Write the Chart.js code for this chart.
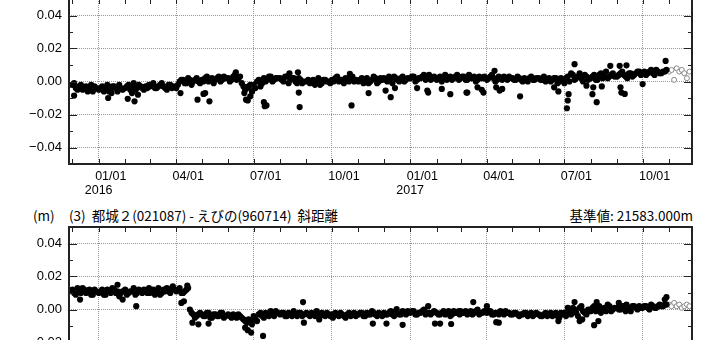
<!DOCTYPE html>
<html>
<head>
<meta charset="utf-8">
<script src="https://cdn.jsdelivr.net/npm/chart.js@4.4.0/dist/chart.umd.min.js"></script>
<style>
  body { margin: 0; width: 720px; height: 340px; overflow: hidden; background: #fff; position: relative; }
  .box { position: absolute; left: 0; width: 720px; }
  .head { position: absolute; top: 207px; font: 13.5px "Noto Sans CJK JP", sans-serif; line-height: 16px; color: #000; white-space: pre; }
</style>
</head>
<body>
<div class="box" style="top:-20px;height:220px"><canvas id="chartTop" width="720" height="220"></canvas></div>
<div class="head" style="left:33px">(m)</div>
<div class="head" style="left:69px">(3)  都城２(021087) - えびの(960714)  斜距離</div>
<div class="head" style="right:27px">基準値: 21583.000m</div>
<div class="box" style="top:200px;height:230px"><canvas id="chartBottom" width="720" height="230"></canvas></div>
<script>
const xStart = "2015-11-27";
const xEnd = "2017-11-28";
const yTicks = [-0.05, -0.04, -0.03, -0.02, -0.01, 0, 0.01, 0.02, 0.03, 0.04, 0.05];

const obsDates = [
  "2015-11-27",
  "2015-12-01","2015-12-05","2015-12-09","2015-12-13","2015-12-17","2015-12-21","2015-12-25","2015-12-29",
  "2016-01-01","2016-01-05","2016-01-09","2016-01-13","2016-01-17","2016-01-21","2016-01-25","2016-01-29",
  "2016-02-01","2016-02-05","2016-02-09","2016-02-13","2016-02-17","2016-02-21","2016-02-25","2016-02-29",
  "2016-03-01","2016-03-05","2016-03-09","2016-03-13","2016-03-17","2016-03-21","2016-03-25","2016-03-29",
  "2016-04-01","2016-04-05","2016-04-09","2016-04-13","2016-04-17","2016-04-21","2016-04-25","2016-04-29",
  "2016-05-01","2016-05-05","2016-05-09","2016-05-13","2016-05-17","2016-05-21","2016-05-25","2016-05-29",
  "2016-06-01","2016-06-05","2016-06-09","2016-06-13","2016-06-17","2016-06-21","2016-06-25","2016-06-29",
  "2016-07-01","2016-07-05","2016-07-09","2016-07-13","2016-07-17","2016-07-21","2016-07-25","2016-07-29",
  "2016-08-01","2016-08-05","2016-08-09","2016-08-13","2016-08-17","2016-08-21","2016-08-25","2016-08-29",
  "2016-09-01","2016-09-05","2016-09-09","2016-09-13","2016-09-17","2016-09-21","2016-09-25","2016-09-29",
  "2016-10-01","2016-10-05","2016-10-09","2016-10-13","2016-10-17","2016-10-21","2016-10-25","2016-10-29",
  "2016-11-01","2016-11-05","2016-11-09","2016-11-13","2016-11-17","2016-11-21","2016-11-25","2016-11-29",
  "2016-12-01","2016-12-05","2016-12-09","2016-12-13","2016-12-17","2016-12-21","2016-12-25","2016-12-29",
  "2017-01-01","2017-01-05","2017-01-09","2017-01-13","2017-01-17","2017-01-21","2017-01-25","2017-01-29",
  "2017-02-01","2017-02-05","2017-02-09","2017-02-13","2017-02-17","2017-02-21","2017-02-25","2017-02-28",
  "2017-03-01","2017-03-05","2017-03-09","2017-03-13","2017-03-17","2017-03-21","2017-03-25","2017-03-29",
  "2017-04-01","2017-04-05","2017-04-09","2017-04-13","2017-04-17","2017-04-21","2017-04-25","2017-04-29",
  "2017-05-01","2017-05-05","2017-05-09","2017-05-13","2017-05-17","2017-05-21","2017-05-25","2017-05-29",
  "2017-06-01","2017-06-05","2017-06-09","2017-06-13","2017-06-17","2017-06-21","2017-06-25","2017-06-29",
  "2017-07-01","2017-07-05","2017-07-09","2017-07-13","2017-07-17","2017-07-21","2017-07-25","2017-07-29",
  "2017-08-01","2017-08-05","2017-08-09","2017-08-13","2017-08-17","2017-08-21","2017-08-25","2017-08-29",
  "2017-09-01","2017-09-05","2017-09-09","2017-09-13","2017-09-17","2017-09-21","2017-09-25","2017-09-29",
  "2017-10-01","2017-10-05","2017-10-09","2017-10-13","2017-10-17","2017-10-21","2017-10-25","2017-10-29"
];

const obsDates2 = [
  "2015-12-03","2015-12-07","2015-12-11","2015-12-15","2015-12-19","2015-12-23","2015-12-27",
  "2016-01-03","2016-01-07","2016-01-11","2016-01-15","2016-01-19","2016-01-23","2016-01-27",
  "2016-02-03","2016-02-07","2016-02-11","2016-02-15","2016-02-19","2016-02-23","2016-02-27",
  "2016-03-03","2016-03-07","2016-03-11","2016-03-15","2016-03-19","2016-03-23","2016-03-27",
  "2016-04-03","2016-04-07","2016-04-11","2016-04-15","2016-04-19","2016-04-23","2016-04-27",
  "2016-05-03","2016-05-07","2016-05-11","2016-05-15","2016-05-19","2016-05-23","2016-05-27",
  "2016-06-03","2016-06-07","2016-06-11","2016-06-15","2016-06-19","2016-06-23","2016-06-27",
  "2016-07-03","2016-07-07","2016-07-11","2016-07-15","2016-07-19","2016-07-23","2016-07-27",
  "2016-08-03","2016-08-07","2016-08-11","2016-08-15","2016-08-19","2016-08-23","2016-08-27",
  "2016-09-03","2016-09-07","2016-09-11","2016-09-15","2016-09-19","2016-09-23","2016-09-27",
  "2016-10-03","2016-10-07","2016-10-11","2016-10-15","2016-10-19","2016-10-23","2016-10-27",
  "2016-11-03","2016-11-07","2016-11-11","2016-11-15","2016-11-19","2016-11-23","2016-11-27",
  "2016-12-03","2016-12-07","2016-12-11","2016-12-15","2016-12-19","2016-12-23","2016-12-27",
  "2017-01-03","2017-01-07","2017-01-11","2017-01-15","2017-01-19","2017-01-23","2017-01-27",
  "2017-02-03","2017-02-07","2017-02-11","2017-02-15","2017-02-19","2017-02-23","2017-02-27",
  "2017-03-03","2017-03-07","2017-03-11","2017-03-15","2017-03-19","2017-03-23","2017-03-27",
  "2017-04-03","2017-04-07","2017-04-11","2017-04-15","2017-04-19","2017-04-23","2017-04-27",
  "2017-05-03","2017-05-07","2017-05-11","2017-05-15","2017-05-19","2017-05-23","2017-05-27",
  "2017-06-03","2017-06-07","2017-06-11","2017-06-15","2017-06-19","2017-06-23","2017-06-27",
  "2017-07-03","2017-07-07","2017-07-11","2017-07-15","2017-07-19","2017-07-23","2017-07-27",
  "2017-08-03","2017-08-07","2017-08-11","2017-08-15","2017-08-19","2017-08-23","2017-08-27",
  "2017-09-03","2017-09-07","2017-09-11","2017-09-15","2017-09-19","2017-09-23","2017-09-27",
  "2017-10-03","2017-10-07","2017-10-11","2017-10-15","2017-10-19","2017-10-23","2017-10-27"
];

// upper panel
const topValues = [
  -0.002,
  -0.002,-0.004,-0.003,-0.005,-0.003,-0.004,-0.006,-0.004,
  -0.005,-0.003,-0.004,-0.006,-0.003,-0.004,-0.002,-0.005,
  -0.004,-0.002,-0.003,-0.005,-0.002,-0.004,-0.003,-0.002,
  -0.003,-0.001,-0.004,-0.002,-0.003,-0.005,-0.002,-0.003,
  -0.004,0.000,0.001,-0.001,0.001,0.000,0.002,-0.001,
  0.001,0.002,0.000,0.002,0.001,0.003,0.001,0.002,
  0.002,0.001,0.004,0.002,-0.001,-0.005,-0.003,-0.006,
  -0.002,0.000,-0.003,0.002,0.001,0.003,0.001,0.002,
  0.002,0.000,0.003,0.001,0.002,-0.001,0.001,0.000,
  0.000,-0.001,0.001,0.000,-0.002,0.001,0.000,-0.001,
  0.001,0.002,0.000,0.001,0.002,0.000,0.003,0.001,
  0.000,0.002,0.001,-0.001,0.001,0.002,0.000,0.001,
  0.002,0.000,0.001,0.003,0.001,0.002,0.000,0.002,
  0.002,0.003,0.001,0.002,0.004,0.002,0.001,0.003,
  0.001,0.003,0.002,0.001,0.003,0.002,0.004,0.002,
  0.002,0.003,0.001,0.002,0.003,0.001,0.002,0.003,
  0.001,0.003,0.002,0.001,0.002,0.003,0.001,0.002,
  0.002,0.001,0.002,0.000,0.001,0.002,0.001,0.002,
  0.002,0.001,0.000,0.002,0.001,0.002,0.000,0.001,
  -0.001,0.003,0.005,0.001,0.003,0.002,0.004,0.001,
  0.002,0.004,0.001,0.005,0.003,0.002,0.004,0.003,
  0.003,0.005,0.004,0.002,0.005,0.004,0.006,0.004,
  0.005,0.004,0.006,0.005,0.007,0.005,0.006,0.007
];
const topValues2 = [
  -0.001,-0.005,-0.002,-0.004,-0.006,-0.002,-0.003,
  -0.004,-0.006,-0.002,-0.005,-0.003,-0.006,-0.004,
  -0.003,-0.005,-0.001,-0.004,-0.003,-0.005,-0.004,
  -0.002,-0.004,-0.003,-0.001,-0.004,-0.002,-0.004,
  -0.002,0.001,-0.001,0.002,-0.002,0.001,0.000,
  0.000,0.003,0.001,-0.001,0.002,0.000,0.003,
  0.000,0.003,0.001,0.003,-0.003,-0.004,-0.002,
  -0.004,0.001,-0.001,0.000,0.003,0.000,0.002,
  0.001,0.003,-0.001,0.002,0.000,0.002,-0.001,
  0.001,0.000,-0.002,0.002,-0.001,0.001,0.000,
  0.000,0.003,0.001,-0.001,0.001,0.002,0.000,
  0.001,-0.001,0.002,0.000,0.003,-0.001,0.002,
  0.001,0.003,-0.001,0.002,0.000,0.003,0.001,
  0.003,0.000,0.002,0.003,0.001,0.004,0.002,
  0.002,0.000,0.004,0.002,0.001,0.003,0.001,
  0.003,0.001,0.004,0.002,0.000,0.003,0.002,
  0.002,0.004,0.000,0.003,0.001,0.002,0.003,
  0.001,0.003,0.001,0.002,0.000,0.003,0.001,
  0.001,0.003,0.001,0.000,0.002,-0.001,0.002,
  0.002,0.000,0.004,0.002,0.005,0.000,0.003,
  0.003,0.001,0.004,0.002,0.006,0.003,0.005,
  0.004,0.006,0.003,0.005,0.003,0.005,0.006,
  0.006,0.005,0.007,0.004,0.006,0.005,0.006
];

const topOutDates = [
  "2015-12-03","2016-01-12","2016-01-16","2016-02-04","2016-02-09","2016-02-12","2016-02-16","2016-04-06",
  "2016-04-26","2016-05-03","2016-05-05","2016-05-10","2016-06-10","2016-06-20","2016-06-22","2016-06-24",
  "2016-06-27","2016-06-29","2016-07-13","2016-07-14","2016-07-16","2016-08-12","2016-08-22","2016-08-23",
  "2016-08-24","2016-10-22","2016-10-24","2016-11-13","2016-12-03","2016-12-09","2016-12-14","2017-01-09",
  "2017-01-21","2017-01-22","2017-02-07","2017-02-17","2017-03-08","2017-03-09","2017-03-21","2017-03-26",
  "2017-03-28","2017-04-10","2017-04-12","2017-04-16","2017-04-19","2017-05-10","2017-06-19","2017-06-24",
  "2017-07-04","2017-07-05","2017-07-06","2017-07-13","2017-07-27","2017-08-03","2017-08-04","2017-08-08",
  "2017-08-14","2017-08-24","2017-09-04","2017-09-05","2017-09-06","2017-09-10","2017-09-12","2017-10-01",
  "2017-10-28"
];
const topOutValues = [
  -0.0085,-0.010,-0.007,-0.0105,-0.007,-0.012,-0.008,-0.007,
  -0.011,-0.0075,-0.007,-0.012,0.0056,-0.007,-0.011,-0.0115,
  -0.009,-0.006,-0.0125,-0.015,-0.0145,0.005,0.0056,-0.0067,
  -0.0155,0.0046,-0.0145,-0.007,-0.0055,-0.0095,-0.004,-0.004,
  -0.0055,-0.0067,-0.0045,-0.0077,-0.0067,-0.0067,-0.0035,-0.005,
  -0.0067,0.0065,-0.0035,-0.0055,-0.0045,-0.009,-0.0035,-0.006,
  -0.0162,-0.0115,-0.0077,0.0105,-0.0025,-0.0077,-0.0035,-0.0125,
  -0.003,0.0095,0.0095,-0.0035,-0.0067,-0.0075,0.0098,-0.0015,
  0.0125
];

// preliminary values (open circles)
const prelimDates = ["2017-11-01","2017-11-04","2017-11-07","2017-11-10","2017-11-13","2017-11-16","2017-11-19","2017-11-22","2017-11-25"];
const topPrelim = [0.006, 0.007, 0.001, 0.008, 0.006, 0.007, 0.005, 0.002, 0.006];

// (3) 都城２ - えびの
const bottomValues = [
  0.011,
  0.012,0.009,0.011,0.013,0.010,0.012,0.009,0.011,
  0.010,0.012,0.009,0.011,0.013,0.010,0.008,0.011,
  0.012,0.010,0.011,0.009,0.012,0.010,0.011,0.013,
  0.010,0.012,0.011,0.009,0.012,0.013,0.010,0.012,
  0.011,0.013,0.010,0.012,0.000,-0.003,-0.004,-0.002,
  -0.003,-0.004,-0.002,-0.005,-0.003,-0.004,-0.002,-0.004,
  -0.003,-0.005,-0.004,-0.003,-0.005,-0.007,-0.006,-0.009,
  -0.004,-0.007,-0.002,-0.005,-0.003,-0.001,-0.004,-0.002,
  -0.003,-0.002,-0.004,-0.003,-0.001,-0.004,-0.002,-0.003,
  -0.002,-0.004,-0.003,-0.001,-0.004,-0.003,-0.002,-0.004,
  -0.003,-0.002,-0.004,-0.003,-0.005,-0.002,-0.003,-0.004,
  -0.003,-0.002,-0.004,-0.003,-0.001,-0.003,-0.002,-0.004,
  -0.002,-0.003,-0.001,-0.004,-0.002,-0.003,-0.002,-0.001,
  -0.002,-0.001,-0.003,-0.002,0.000,-0.002,-0.003,-0.001,
  -0.002,-0.003,-0.001,-0.002,-0.004,-0.001,-0.002,-0.003,
  -0.001,-0.002,-0.003,-0.001,-0.002,0.000,-0.002,-0.001,
  -0.002,-0.001,-0.003,-0.002,-0.001,-0.003,-0.002,-0.003,
  -0.003,-0.002,-0.004,-0.003,-0.002,-0.003,-0.004,-0.002,
  -0.003,-0.004,-0.002,-0.003,-0.004,-0.002,-0.005,-0.003,
  -0.002,0.001,-0.003,0.000,-0.004,0.002,-0.002,0.000,
  -0.001,0.002,0.000,-0.002,0.001,0.003,-0.001,0.001,
  0.001,0.000,0.002,0.001,-0.001,0.002,0.000,0.001,
  0.001,0.002,0.000,0.002,0.001,0.003,0.002,0.003
];
const bottomValues2 = [
  0.010,0.013,0.010,0.012,0.011,0.009,0.012,
  0.011,0.009,0.012,0.010,0.012,0.011,0.010,
  0.009,0.011,0.013,0.010,0.011,0.012,0.010,
  0.011,0.009,0.013,0.010,0.011,0.011,0.013,
  0.012,0.010,0.011,0.013,-0.002,-0.005,-0.003,
  -0.004,-0.002,-0.005,-0.003,-0.004,-0.002,-0.005,
  -0.004,-0.003,-0.005,-0.004,-0.006,-0.008,-0.007,
  -0.006,-0.003,-0.004,-0.002,-0.004,-0.003,-0.001,
  -0.002,-0.004,-0.002,-0.004,-0.003,-0.002,-0.004,
  -0.003,-0.002,-0.004,-0.003,-0.002,-0.004,-0.003,
  -0.004,-0.003,-0.002,-0.004,-0.003,-0.004,-0.002,
  -0.002,-0.004,-0.002,-0.003,-0.002,-0.004,-0.003,
  -0.003,-0.002,-0.003,-0.001,-0.003,-0.001,-0.003,
  -0.001,-0.003,-0.002,-0.001,-0.003,-0.002,-0.002,
  -0.003,-0.002,-0.003,-0.001,-0.003,-0.002,-0.001,
  -0.002,-0.001,-0.002,-0.003,-0.001,-0.003,-0.002,
  -0.001,-0.003,-0.002,-0.003,-0.002,-0.001,-0.002,
  -0.002,-0.003,-0.003,-0.002,-0.004,-0.002,-0.003,
  -0.004,-0.003,-0.004,-0.002,-0.003,-0.004,-0.002,
  -0.004,-0.001,0.001,-0.002,0.001,-0.001,-0.003,
  0.001,-0.001,0.002,0.000,-0.001,0.002,0.000,
  0.000,0.002,-0.001,0.001,0.002,0.001,0.002,
  0.002,0.001,0.003,0.001,0.002,0.002,0.003
];

const bottomOutDates = [
  "2015-12-10","2016-01-23","2016-01-29","2016-02-14","2016-03-28","2016-04-07","2016-04-10","2016-04-14",
  "2016-04-20","2016-04-27","2016-05-09","2016-06-21","2016-06-24","2016-06-28","2016-07-12","2016-08-28",
  "2016-08-29","2016-09-16","2016-10-02","2016-11-18","2016-12-04","2016-12-16","2016-12-23","2017-01-22",
  "2017-01-30","2017-02-05","2017-02-18","2017-03-16","2017-04-01","2017-04-12","2017-04-15","2017-06-24",
  "2017-07-13","2017-07-19","2017-07-22","2017-08-05","2017-08-08","2017-08-10","2017-09-03","2017-09-12",
  "2017-10-27","2017-10-29"
];
const bottomOutValues = [
  0.006,0.015,0.006,0.002,0.014,0.004,0.005,0.0145,
  -0.008,-0.009,-0.0085,-0.011,-0.0125,-0.014,-0.016,0.0045,
  -0.008,-0.006,-0.005,-0.0085,-0.0085,0.0003,-0.0093,0.002,
  -0.0085,-0.0085,-0.0088,0.0045,0.002,-0.0077,-0.008,-0.007,
  0.0045,-0.007,-0.006,-0.0095,0.0045,-0.007,0.004,0.003,
  0.006,0.0075
];
const bottomPrelim = [0.003, 0.002, 0.004, 0.002, 0.003, 0.001, 0.002, 0.003, 0.002];

function dayNum(s) {
  return Date.parse(s + "T00:00:00Z") / 86400000;
}

function toPoints(dates, values) {
  return dates.map((d, i) => ({ x: dayNum(d), y: values[i] }));
}

function isQuarter(v) {
  const m = new Date(v * 86400000).getUTCMonth();
  return m % 3 === 0;
}

const axisMarks = {
  id: "axisMarks",
  afterDraw(chart) {
    const { ctx, chartArea: a, scales: { x, y } } = chart;
    ctx.save();
    ctx.strokeStyle = "#222";
    ctx.lineWidth = 1;
    ctx.beginPath();
    x.ticks.forEach(t => {
      const px = Math.round(x.getPixelForValue(t.value)) + 0.5;
      ctx.moveTo(px, a.bottom); ctx.lineTo(px, a.bottom - 5);
      ctx.moveTo(px, a.top); ctx.lineTo(px, a.top + 5);
    });
    y.ticks.forEach(t => {
      const n = Math.round(t.value * 100);
      const len = n % 2 === 0 ? 8 : 4;
      const py = Math.round(y.getPixelForValue(t.value)) + 0.5;
      ctx.moveTo(a.left, py); ctx.lineTo(a.left + len, py);
      ctx.moveTo(a.right, py); ctx.lineTo(a.right - len, py);
    });
    ctx.stroke();
    ctx.lineWidth = 2;
    ctx.strokeRect(a.left, a.top, a.right - a.left, a.bottom - a.top);
    ctx.restore();
  }
};

function dots(points) {
  return { data: points, pointRadius: 3.1, pointBackgroundColor: "#000", pointBorderWidth: 0 };
}

function makeChart(id, padTop, axisHeight, mainVals, mainVals2, outVals, outDates, prelimVals) {
  const ctx = document.getElementById(id).getContext("2d");
  return new Chart(ctx, {
    type: "scatter",
    data: {
      datasets: [
        dots(toPoints(obsDates, mainVals)),
        dots(toPoints(obsDates2, mainVals2)),
        dots(toPoints(outDates, outVals)),
        { data: toPoints(prelimDates, prelimVals), pointRadius: 2.5, pointBackgroundColor: "#fff", pointBorderColor: "#888", pointBorderWidth: 1 }
      ]
    },
    options: {
      responsive: false,
      animation: false,
      layout: { padding: { left: 0, right: 28, top: padTop, bottom: 0 } },
      plugins: { legend: { display: false }, tooltip: { enabled: false } },
      scales: {
        x: {
          type: "linear",
          min: dayNum(xStart),
          max: dayNum(xEnd),
          afterFit: s => { s.height = axisHeight; },
          afterBuildTicks: s => {
            const ticks = [];
            for (let yr = 2015; yr <= 2017; yr++) {
              for (let m = 0; m < 12; m++) {
                const v = Date.UTC(yr, m, 1) / 86400000;
                if (v > s.min && v < s.max) ticks.push({ value: v });
              }
            }
            s.ticks = ticks;
          },
          grid: {
            drawTicks: false,
            color: c => (c.tick && isQuarter(c.tick.value)) ? "#999" : "rgba(0,0,0,0)",
            lineWidth: 1
          },
          border: { display: false, dash: [1, 1] },
          ticks: {
            autoSkip: false,
            maxRotation: 0,
            padding: 6,
            labelOffset: 12,
            color: "#000",
            font: { family: "'Liberation Sans', Arial, sans-serif", size: 12.5, lineHeight: "14px" },
            callback: v => {
              const d = new Date(v * 86400000);
              const m = d.getUTCMonth();
              if (m % 3 !== 0) return "";
              const lab = String(m + 1).padStart(2, "0") + "/01";
              if (m === 0) return [lab, d.getUTCFullYear() + "       "];
              return lab;
            }
          }
        },
        y: {
          min: -0.05,
          max: 0.05,
          afterFit: s => { s.width = 69; },
          afterBuildTicks: s => { s.ticks = yTicks.map(v => ({ value: v })); },
          grid: {
            drawTicks: false,
            color: c => {
              if (!c.tick) return "rgba(0,0,0,0)";
              const n = Math.round(c.tick.value * 100);
              return (n % 2 === 0 && Math.abs(n) < 5) ? "#999" : "rgba(0,0,0,0)";
            },
            lineWidth: 1
          },
          border: { display: false, dash: [1, 1] },
          ticks: {
            autoSkip: false,
            padding: 7,
            color: "#000",
            font: { family: "'Liberation Sans', Arial, sans-serif", size: 13 },
            callback: v => {
              const n = Math.round(v * 100);
              if (n % 2 !== 0 || Math.abs(n) >= 5) return "";
              return (n < 0 ? "\u2212" : "") + Math.abs(v).toFixed(2);
            }
          }
        }
      }
    },
    plugins: [axisMarks]
  });
}

makeChart("chartTop", 19, 36, topValues, topValues2, topOutValues, topOutDates, topPrelim);
makeChart("chartBottom", 27, 38, bottomValues, bottomValues2, bottomOutValues, bottomOutDates, bottomPrelim);
</script>
</body>
</html>
